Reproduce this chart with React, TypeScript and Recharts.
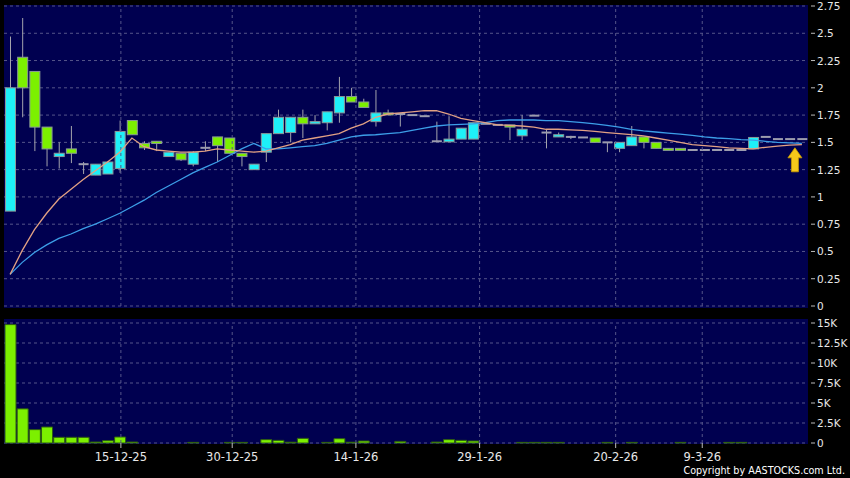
import React from 'react';
import { ComposedChart, Bar, Line, XAxis, YAxis, CartesianGrid, ReferenceLine, ReferenceDot } from 'recharts';

// daily OHLC
const opens = [0.87, 2.28, 2.15, 1.64, 1.37, 1.44, 1.30, 1.20, 1.21, 1.26, 1.70, 1.49, 1.51, 1.37, 1.40, 1.30, 1.45, 1.55, 1.54, 1.40, 1.25, 1.41, 1.58, 1.59, 1.73, 1.67, 1.68, 1.77, 1.92, 1.87, 1.69, 1.77, 1.76, 1.75, 1.74, 1.51, 1.505, 1.53, 1.53, 1.67, 1.66, 1.66, 1.56, 1.745, 1.59, 1.55, 1.55, 1.545, 1.54, 1.50, 1.445, 1.47, 1.55, 1.50, 1.445, 1.445, 1.43, 1.43, 1.43, 1.43, 1.43, 1.44, 1.55, 1.53, 1.53, 1.53];
const highs = [2.47, 2.64, 2.15, 1.64, 1.50, 1.65, 1.32, 1.30, 1.33, 1.70, 1.70, 1.51, 1.51, 1.41, 1.40, 1.42, 1.51, 1.55, 1.54, 1.40, 1.30, 1.58, 1.80, 1.73, 1.80, 1.75, 1.78, 2.10, 2.00, 1.90, 1.98, 1.80, 1.77, 1.75, 1.74, 1.69, 1.74, 1.63, 1.68, 1.67, 1.66, 1.66, 1.75, 1.745, 1.62, 1.59, 1.56, 1.545, 1.54, 1.50, 1.50, 1.65, 1.55, 1.50, 1.445, 1.445, 1.43, 1.43, 1.43, 1.43, 1.43, 1.545, 1.55, 1.53, 1.53, 1.53];
const lows = [0.87, 1.73, 1.42, 1.28, 1.26, 1.31, 1.21, 1.20, 1.21, 1.22, 1.57, 1.43, 1.42, 1.37, 1.33, 1.28, 1.42, 1.32, 1.40, 1.28, 1.25, 1.32, 1.58, 1.50, 1.54, 1.67, 1.61, 1.68, 1.87, 1.82, 1.645, 1.755, 1.645, 1.75, 1.74, 1.51, 1.505, 1.53, 1.53, 1.67, 1.66, 1.52, 1.52, 1.745, 1.445, 1.55, 1.53, 1.545, 1.50, 1.41, 1.41, 1.47, 1.445, 1.445, 1.44, 1.44, 1.43, 1.43, 1.43, 1.43, 1.43, 1.44, 1.55, 1.53, 1.53, 1.53];
const closes = [2.00, 2.00, 1.64, 1.44, 1.40, 1.40, 1.30, 1.30, 1.32, 1.60, 1.57, 1.45, 1.49, 1.41, 1.34, 1.41, 1.45, 1.47, 1.40, 1.37, 1.30, 1.58, 1.73, 1.73, 1.67, 1.69, 1.78, 1.92, 1.87, 1.82, 1.77, 1.755, 1.76, 1.75, 1.74, 1.51, 1.53, 1.63, 1.68, 1.67, 1.66, 1.64, 1.62, 1.745, 1.59, 1.57, 1.55, 1.545, 1.50, 1.50, 1.50, 1.55, 1.50, 1.445, 1.44, 1.44, 1.43, 1.43, 1.43, 1.43, 1.43, 1.545, 1.55, 1.53, 1.53, 1.53];

// moving averages
const maShort = [0.29, 0.51, 0.70, 0.85, 0.98, 1.07, 1.16, 1.24, 1.32, 1.41, 1.54, 1.46, 1.43, 1.42, 1.41, 1.41, 1.42, 1.44, 1.43, 1.42, 1.41, 1.42, 1.45, 1.48, 1.52, 1.54, 1.56, 1.58, 1.63, 1.67, 1.73, 1.76, 1.77, 1.78, 1.79, 1.79, 1.76, 1.72, 1.70, 1.68, 1.66, 1.655, 1.65, 1.64, 1.62, 1.62, 1.615, 1.61, 1.60, 1.59, 1.58, 1.57, 1.56, 1.54, 1.52, 1.50, 1.48, 1.47, 1.46, 1.45, 1.445, 1.44, 1.455, 1.465, 1.475, 1.48];
const maLong = [0.29, 0.40, 0.49, 0.56, 0.62, 0.66, 0.71, 0.75, 0.80, 0.85, 0.91, 0.97, 1.04, 1.10, 1.16, 1.22, 1.27, 1.32, 1.38, 1.44, 1.49, 1.44, 1.44, 1.45, 1.46, 1.47, 1.49, 1.52, 1.55, 1.565, 1.57, 1.58, 1.59, 1.61, 1.63, 1.65, 1.66, 1.665, 1.67, 1.68, 1.70, 1.705, 1.705, 1.705, 1.70, 1.70, 1.69, 1.68, 1.67, 1.655, 1.64, 1.62, 1.605, 1.595, 1.585, 1.575, 1.565, 1.55, 1.54, 1.535, 1.525, 1.52, 1.51, 1.50, 1.495, 1.49];

const volumes = [14800, 4270, 1670, 2000, 710, 710, 710, 120, 290, 750, 120, 0, 0, 0, 0, 80, 0, 0, 80, 80, 0, 420, 330, 100, 580, 0, 80, 540, 100, 250, 0, 0, 200, 0, 0, 120, 420, 330, 250, 0, 0, 0, 80, 80, 80, 80, 0, 0, 0, 80, 0, 80, 0, 0, 0, 80, 0, 0, 0, 80, 80, 0, 0, 0, 0, 0];

const dateTicks = [9.45, 18.45, 28.45, 38.45, 49.45, 56.45];
const dateLabels = ['15-12-25', '30-12-25', '14-1-26', '29-1-26', '20-2-26', '9-3-26'];
const priceTicks = [0, 0.25, 0.5, 0.75, 1, 1.25, 1.5, 1.75, 2, 2.25, 2.5, 2.75];
const volTicks = [0, 2500, 5000, 7500, 10000, 12500, 15000];

const data = opens.map((o, i) => ({
  i,
  o,
  h: highs[i],
  l: lows[i],
  c: closes[i],
  range: [lows[i], highs[i]],
  maS: maShort[i],
  maL: maLong[i],
  vol: volumes[i],
}));

const NAVY = '#000050';
const GRID = '#55558a';
const TXT = '#e8e8e8';
const FONT = '"DejaVu Sans", Verdana, sans-serif';

const Candle = (props: any) => {
  const { x, y, width, height, payload } = props;
  const { o, h, l, c } = payload;
  const cx = x + width / 2;
  const ppu = h > l ? height / (h - l) : 0;
  const yOf = (v: number) => y + (h - v) * ppu;
  const bw = 10;
  const wick = h > l ? <line x1={cx} x2={cx} y1={y} y2={y + height} stroke="#a4a4ac" strokeWidth={1} /> : null;
  if (o === c) {
    return (
      <g>
        {wick}
        <line x1={cx - bw / 2} x2={cx + bw / 2} y1={yOf(c)} y2={yOf(c)} stroke="#9c9cae" strokeWidth={2} />
      </g>
    );
  }
  const top = yOf(Math.max(o, c));
  const bot = yOf(Math.min(o, c));
  return (
    <g>
      {wick}
      <rect x={cx - bw / 2} y={top} width={bw} height={Math.max(bot - top, 2)} fill={c > o ? '#1ef0f8' : '#7cf000'} stroke="#8a9898" strokeWidth={1} />
    </g>
  );
};

const RightTick = (props: any) => {
  const { x, y, payload, fmt } = props;
  return (
    <g>
      <line x1={x + 3} x2={x + 7} y1={y} y2={y} stroke="#bbbbbb" />
      <text x={x + 9} y={y} dy={4} fill={TXT} fontSize={10.5} fontFamily={FONT}>{fmt(payload.value)}</text>
    </g>
  );
};

const Arrow = (props: any) => {
  const { cx, cy } = props;
  const ax = cx - 7;
  return (
    <path
      d={`M${ax} ${cy} L${ax + 7} ${cy + 10} L${ax + 3.5} ${cy + 10} L${ax + 3.5} ${cy + 24} L${ax - 3.5} ${cy + 24} L${ax - 3.5} ${cy + 10} L${ax - 7} ${cy + 10} Z`}
      fill="#f7c81a"
      stroke="#c89a00"
      strokeWidth={0.8}
    />
  );
};

const fmtPrice = (v: number) => String(v);
const fmtVol = (v: number) => (v === 0 ? '0' : `${v / 1000}K`);

export default function App() {
  return (
    <div style={{ position: 'absolute', left: 0, top: 0, width: 850, height: 478, background: '#000', overflow: 'hidden' }}>
      <div style={{ position: 'absolute', left: 4, top: 5, width: 804, height: 303, background: NAVY }} />
      <div style={{ position: 'absolute', left: 4, top: 319, width: 804, height: 125, background: NAVY }} />

      <div style={{ position: 'absolute', left: 0, top: 0 }}>
        <ComposedChart width={850} height={312} data={data} margin={{ top: 6, right: 0, bottom: 6, left: 4 }}>
          <XAxis xAxisId="n" type="number" domain={[-0.5, 65.5]} ticks={dateTicks} allowDataOverflow hide height={0} />
          <XAxis xAxisId="c" dataKey="i" hide height={0} />
          <YAxis
            orientation="right"
            width={42}
            domain={[0, 2.75]}
            ticks={priceTicks}
            interval={0}
            axisLine={false}
            tickLine={false}
            tickSize={0}
            tickMargin={0}
            tick={<RightTick fmt={fmtPrice} />}
          />
          <CartesianGrid xAxisId="c" vertical={false} stroke={GRID} strokeDasharray="3 3" />
          {dateTicks.map((t) => (
            <ReferenceLine key={t} xAxisId="n" x={t} stroke={GRID} strokeDasharray="3 3" />
          ))}
          <Bar xAxisId="c" dataKey="range" barSize={11} shape={<Candle />} isAnimationActive={false} />
          <Line xAxisId="c" type="linear" dataKey="maL" stroke="#3c9ee8" strokeWidth={1.3} dot={false} isAnimationActive={false} />
          <Line xAxisId="c" type="linear" dataKey="maS" stroke="#e2a184" strokeWidth={1.3} dot={false} isAnimationActive={false} />
          <ReferenceDot xAxisId="c" x={65} y={1.45} r={0} shape={<Arrow />} />
        </ComposedChart>
      </div>

      <div style={{ position: 'absolute', left: 0, top: 312 }}>
        <ComposedChart width={850} height={166} data={data} margin={{ top: 11, right: 0, bottom: 15, left: 4 }}>
          <XAxis
            xAxisId="n"
            type="number"
            domain={[-0.5, 65.5]}
            ticks={dateTicks}
            allowDataOverflow
            height={20}
            axisLine={false}
            tickSize={5}
            tickMargin={5}
            tickLine={{ stroke: '#bbbbbb' }}
            tick={{ fill: TXT, fontSize: 11.5, fontFamily: FONT }}
            tickFormatter={(v: number) => dateLabels[dateTicks.indexOf(v)]}
          />
          <XAxis xAxisId="c" dataKey="i" hide height={0} />
          <YAxis
            orientation="right"
            width={42}
            domain={[0, 15000]}
            ticks={volTicks}
            interval={0}
            axisLine={false}
            tickLine={false}
            tickSize={0}
            tickMargin={0}
            tick={<RightTick fmt={fmtVol} />}
          />
          <CartesianGrid xAxisId="c" vertical={false} stroke={GRID} strokeDasharray="3 3" />
          {dateTicks.map((t) => (
            <ReferenceLine key={t} xAxisId="n" x={t} stroke={GRID} strokeDasharray="3 3" />
          ))}
          <Bar xAxisId="c" dataKey="vol" barSize={11} fill="#7cf000" stroke="#2e5c12" strokeWidth={1} isAnimationActive={false} />
        </ComposedChart>
      </div>

      <div style={{ position: 'absolute', right: 5, top: 465, color: '#fff', fontSize: 9.6, fontFamily: FONT, lineHeight: '12px' }}>
        Copyright by AASTOCKS.com Ltd.
      </div>
    </div>
  );
}
